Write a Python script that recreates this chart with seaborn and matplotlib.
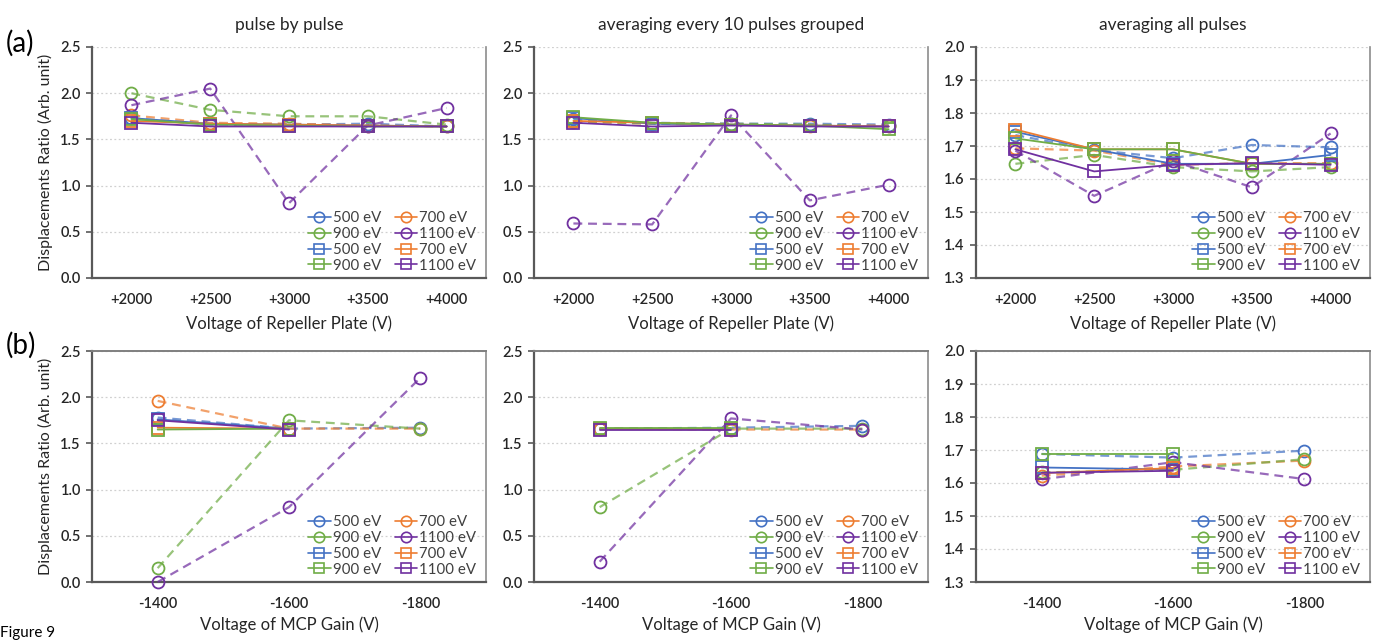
import numpy as np
import pandas as pd
import matplotlib
matplotlib.use("Agg")
import matplotlib.pyplot as plt
from matplotlib.lines import Line2D
from matplotlib.colors import to_rgba
import seaborn as sns

# ---------------- data ----------------
repeller_labels = ["+2000", "+2500", "+3000", "+3500", "+4000"]
mcp_labels = ["-1400", "-1600", "-1800"]
energies = ["500 eV", "700 eV", "900 eV", "1100 eV"]
col_titles = ["pulse by pulse", "averaging every 10 pulses grouped", "averaging all pulses"]

# (a) repeller plate, pulse by pulse   (o = dashed circles, s = solid squares)
rp_pulse_o500 = [1.73, 1.66, 1.66, 1.67, 1.64]
rp_pulse_o700 = [1.76, 1.68, 1.67, 1.65, 1.64]
rp_pulse_o900 = [2.00, 1.82, 1.75, 1.75, 1.66]
rp_pulse_o1100 = [1.87, 2.05, 0.81, 1.65, 1.84]
rp_pulse_s500 = [1.73, 1.67, 1.66, 1.65, 1.64]
rp_pulse_s700 = [1.70, 1.67, 1.66, 1.65, 1.64]
rp_pulse_s900 = [1.72, 1.66, 1.65, 1.64, 1.64]
rp_pulse_s1100 = [1.68, 1.64, 1.64, 1.64, 1.64]

# (a) repeller plate, averaging every 10 pulses
rp_avg10_o500 = [1.72, 1.68, 1.67, 1.67, 1.66]
rp_avg10_o700 = [1.69, 1.67, 1.66, 1.65, 1.65]
rp_avg10_o900 = [1.70, 1.67, 1.67, 1.66, 1.64]
rp_avg10_o1100 = [0.59, 0.58, 1.76, 0.84, 1.01]
rp_avg10_s500 = [1.73, 1.67, 1.66, 1.65, 1.64]
rp_avg10_s700 = [1.70, 1.68, 1.66, 1.65, 1.64]
rp_avg10_s900 = [1.74, 1.68, 1.66, 1.65, 1.61]
rp_avg10_s1100 = [1.68, 1.64, 1.65, 1.64, 1.64]

# (a) repeller plate, averaging all pulses
rp_all_o500 = [1.733, 1.688, 1.663, 1.703, 1.696]
rp_all_o700 = [1.693, 1.686, 1.643, 1.648, 1.648]
rp_all_o900 = [1.646, 1.673, 1.636, 1.623, 1.636]
rp_all_o1100 = [1.686, 1.549, 1.655, 1.575, 1.738]
rp_all_s500 = [1.743, 1.690, 1.646, 1.646, 1.673]
rp_all_s700 = [1.750, 1.690, 1.690, 1.646, 1.646]
rp_all_s900 = [1.723, 1.690, 1.690, 1.646, 1.646]
rp_all_s1100 = [1.690, 1.623, 1.643, 1.648, 1.643]

# (b) MCP gain, pulse by pulse
mcp_pulse_o500 = [1.78, 1.66, 1.67]
mcp_pulse_o700 = [1.96, 1.66, 1.66]
mcp_pulse_o900 = [0.15, 1.75, 1.66]
mcp_pulse_o1100 = [0.00, 0.81, 2.21]
mcp_pulse_s500 = [1.76, 1.66, np.nan]
mcp_pulse_s700 = [1.67, 1.66, np.nan]
mcp_pulse_s900 = [1.65, 1.66, np.nan]
mcp_pulse_s1100 = [1.75, 1.65, np.nan]

# (b) MCP gain, averaging every 10 pulses
mcp_avg10_o500 = [1.66, 1.67, 1.69]
mcp_avg10_o700 = [1.66, 1.65, 1.65]
mcp_avg10_o900 = [0.81, 1.66, 1.66]
mcp_avg10_o1100 = [0.22, 1.77, 1.65]
mcp_avg10_s500 = [1.66, 1.66, np.nan]
mcp_avg10_s700 = [1.66, 1.66, np.nan]
mcp_avg10_s900 = [1.67, 1.67, np.nan]
mcp_avg10_s1100 = [1.65, 1.65, np.nan]

# (b) MCP gain, averaging all pulses
mcp_all_o500 = [1.688, 1.677, 1.698]
mcp_all_o700 = [1.622, 1.650, 1.668]
mcp_all_o900 = [1.632, 1.640, 1.672]
mcp_all_o1100 = [1.611, 1.663, 1.612]
mcp_all_s500 = [1.647, 1.641, np.nan]
mcp_all_s700 = [1.630, 1.645, np.nan]
mcp_all_s900 = [1.688, 1.688, np.nan]
mcp_all_s1100 = [1.631, 1.637, np.nan]

panels = [
    (repeller_labels, [rp_pulse_o500, rp_pulse_o700, rp_pulse_o900, rp_pulse_o1100],
     [rp_pulse_s500, rp_pulse_s700, rp_pulse_s900, rp_pulse_s1100]),
    (repeller_labels, [rp_avg10_o500, rp_avg10_o700, rp_avg10_o900, rp_avg10_o1100],
     [rp_avg10_s500, rp_avg10_s700, rp_avg10_s900, rp_avg10_s1100]),
    (repeller_labels, [rp_all_o500, rp_all_o700, rp_all_o900, rp_all_o1100],
     [rp_all_s500, rp_all_s700, rp_all_s900, rp_all_s1100]),
    (mcp_labels, [mcp_pulse_o500, mcp_pulse_o700, mcp_pulse_o900, mcp_pulse_o1100],
     [mcp_pulse_s500, mcp_pulse_s700, mcp_pulse_s900, mcp_pulse_s1100]),
    (mcp_labels, [mcp_avg10_o500, mcp_avg10_o700, mcp_avg10_o900, mcp_avg10_o1100],
     [mcp_avg10_s500, mcp_avg10_s700, mcp_avg10_s900, mcp_avg10_s1100]),
    (mcp_labels, [mcp_all_o500, mcp_all_o700, mcp_all_o900, mcp_all_o1100],
     [mcp_all_s500, mcp_all_s700, mcp_all_s900, mcp_all_s1100]),
]

# ---------------- style ----------------
sns.set_theme(style="white")
plt.rcParams["font.family"] = ["Lato", "DejaVu Sans"]
colors = ["#4472C4", "#ED7D31", "#70AD47", "#7030A0"]
text_col = "#262626"

fig = plt.figure(figsize=(13.77, 6.41), dpi=100)
W, H = 1377, 641
lefts = [92, 534, 976]
widths = [394, 394, 394]
rows = [(47, 278), (351, 582)]

axes = []
for r, (top, bot) in enumerate(rows):
    for c in range(3):
        ax = fig.add_axes([lefts[c] / W, 1 - bot / H, widths[c] / W, (bot - top) / H])
        axes.append(ax)

for i, (ax, (cats, circ, sq)) in enumerate(zip(axes, panels)):
    r, c = divmod(i, 3)
    # dashed circle series
    for k in range(4):
        df = pd.DataFrame({"x": cats, "y": circ[k]})
        sns.lineplot(data=df, x="x", y="y", ax=ax, sort=False,
                     color=to_rgba(colors[k], 0.72), linewidth=1.6,
                     dashes=False, linestyle=(0, (4, 2.6)),
                     marker="o", markersize=8.6, markerfacecolor="none",
                     markeredgecolor=colors[k], markeredgewidth=1.3,
                     clip_on=False, zorder=3)
    for k in range(4):
        df = pd.DataFrame({"x": cats, "y": sq[k]}).dropna()
        sns.lineplot(data=df, x="x", y="y", ax=ax, sort=False,
                     color=colors[k], linewidth=1.3,
                     marker="s", markersize=8.0, markerfacecolor="none",
                     markeredgecolor=colors[k], markeredgewidth=1.3,
                     clip_on=False, zorder=3)

    n = len(cats)
    ax.set_xlim(-0.5, n - 0.5)
    if c == 2:
        ax.set_ylim(1.3, 2.0)
        ax.set_yticks(np.arange(1.3, 2.01, 0.1))
        ax.set_yticklabels([f"{v:.1f}" for v in np.arange(1.3, 2.01, 0.1)])
    else:
        ax.set_ylim(0, 2.5)
        ax.set_yticks(np.arange(0, 2.51, 0.5))
        ax.set_yticklabels([f"{v:.1f}" for v in np.arange(0, 2.51, 0.5)])
    ax.yaxis.grid(True, color="#D0D0D0", linestyle=(0, (1.5, 2.0)), linewidth=0.9)
    ax.set_axisbelow(True)
    ax.tick_params(axis="y", left=True, length=4, width=1.2, color="#595959",
                   pad=4, labelsize=10.5, labelcolor=text_col)
    ax.tick_params(axis="x", bottom=False, pad=5, labelsize=10.5, labelcolor=text_col)
    for lab in ax.get_yticklabels() + ax.get_xticklabels():
        lab.set_fontweight("semibold")

    for s in ["left", "bottom"]:
        ax.spines[s].set_color("#595959")
        ax.spines[s].set_linewidth(1.6)
    ax.spines["right"].set_color("#8C8C8C")
    ax.spines["right"].set_linewidth(1.2)
    if r == 0:
        ax.spines["top"].set_visible(False)
    else:
        ax.spines["top"].set_color("#7F7F7F")
        ax.spines["top"].set_linewidth(1.4)

    if r == 0:
        ax.set_title(col_titles[c], fontsize=12.5, color=text_col, pad=12)
        ax.set_xlabel("Voltage of Repeller Plate (V)", fontsize=12, color=text_col, labelpad=6)
    else:
        ax.set_xlabel("Voltage of MCP Gain (V)", fontsize=12, color=text_col, labelpad=4)
    if c == 0:
        ax.set_ylabel("Displacements Ratio (Arb. unit)", fontsize=11.5, color=text_col, labelpad=5)
    else:
        ax.set_ylabel("")

    # legend: Excel-like two-column order
    order = [(0, "o"), (2, "o"), (0, "s"), (2, "s"), (1, "o"), (3, "o"), (1, "s"), (3, "s")]
    handles = [Line2D([], [], color=colors[k], marker=m, markersize=7.5 if m == "o" else 7,
                      markerfacecolor="none", markeredgewidth=1.2, linewidth=1.2)
               for k, m in order]
    labels = [energies[k] for k, m in order]
    ax.legend(handles=handles, labels=labels, ncol=2, loc="lower right",
              bbox_to_anchor=(1.01, -0.035), frameon=False, fontsize=10.8,
              handlelength=1.5, handletextpad=0.15, columnspacing=0.9,
              labelspacing=0.12, labelcolor="#404040")

fig.text(6 / W, 1 - 43 / H, "(a)", fontsize=20, color="#000000", va="center", ha="left")
fig.text(6 / W, 1 - 345 / H, "(b)", fontsize=20, color="#000000", va="center", ha="left")
fig.text(0 / W, 1 / H, "Figure 9", fontsize=11, color="#000000", va="bottom", ha="left")

fig.savefig("out.png", dpi=100, facecolor="white")
